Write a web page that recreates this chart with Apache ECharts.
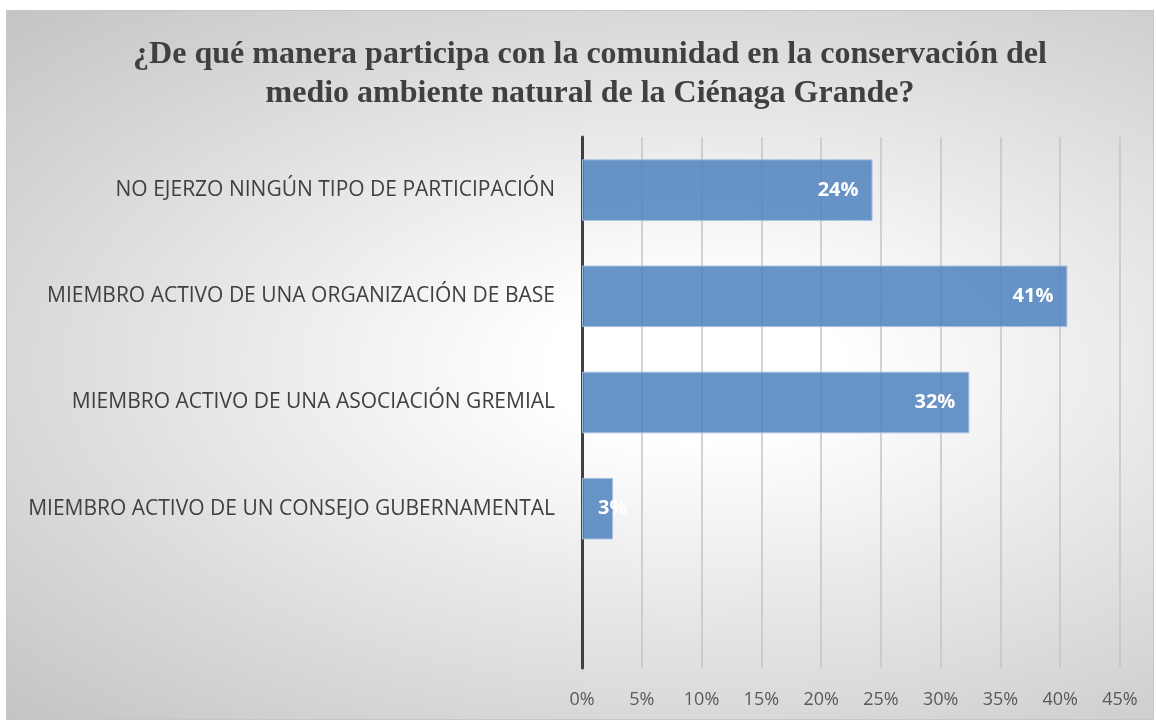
<!DOCTYPE html>
<html><head><meta charset="utf-8">
<script src="https://cdn.jsdelivr.net/npm/echarts@6/dist/echarts.min.js"></script>
<style>
html,body{margin:0;padding:0;background:#fff}
#bg{position:absolute;left:6px;top:10px;width:1146px;height:708px;border:1px solid #c6c6c6;background:radial-gradient(ellipse at 60% 50%,#ffffff 15%,#c4c4c4 100%)}
#c{position:absolute;left:0;top:0;width:1156px;height:723px}
</style>
</head><body><div id="bg"></div><div id="c"></div>
<script>
const categories = ['NO EJERZO NINGÚN TIPO DE PARTICIPACIÓN','MIEMBRO ACTIVO DE UNA ORGANIZACIÓN DE BASE','MIEMBRO ACTIVO DE UNA ASOCIACIÓN GREMIAL','MIEMBRO ACTIVO DE UN CONSEJO GUBERNAMENTAL',''];
const values = [24.3, 40.6, 32.4, 2.6, null];
const labels = ['24%','41%','32%','3%',''];
const titleText = '¿De qué manera participa con la comunidad en la conservación del\nmedio ambiente natural de la Ciénaga Grande?';

const seriesData = values.map((v, i) => {
  if (v !== null && v < 5) {
    return {value: v, label: {position: 'insideLeft', distance: 16}};
  }
  return v;
});

const chart = echarts.init(document.getElementById('c'));
chart.setOption({
  animation:false,
  backgroundColor:'transparent',
  title:{text:titleText,left:585,textAlign:'center',top:30,textStyle:{fontFamily:'Liberation Serif',fontWeight:'bold',fontSize:32,lineHeight:39,color:'#404040'}},
  grid:{left:582,right:36,top:137,bottom:55,containLabel:false},
  xAxis:{type:'value',min:0,max:45,interval:5,
    axisLine:{show:false},axisTick:{show:false},
    splitLine:{show:true,lineStyle:{color:'#c4c4c4',width:1.5}},
    axisLabel:{formatter:'{value}%',color:'#595959',fontFamily:'Open Sans',fontSize:18,margin:23}},
  yAxis:{type:'category',data:categories,inverse:true,
    axisLine:{show:true,lineStyle:{color:'#404040',width:3}},axisTick:{show:false},
    axisLabel:{color:'#404040',fontFamily:'Open Sans',fontSize:21,margin:27}},
  series:[{type:'bar',data:seriesData,barCategoryGap:'42%',
    itemStyle:{color:'rgba(79,129,189,0.85)',borderColor:'#a7c0e0',borderWidth:1},
    label:{show:true,position:'insideRight',distance:14,formatter:p=>labels[p.dataIndex],color:'#ffffff',fontWeight:'bold',fontFamily:'Open Sans',fontSize:20}}]
});
</script></body></html>
